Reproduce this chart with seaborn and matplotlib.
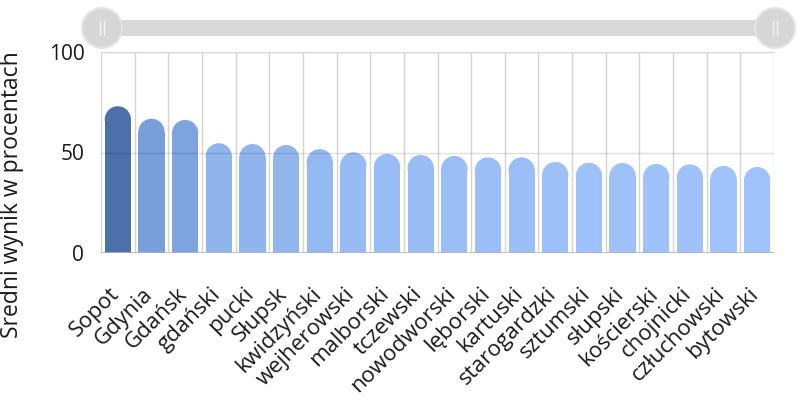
import numpy as np
import pandas as pd
import matplotlib
matplotlib.use("Agg")
import matplotlib.pyplot as plt
import matplotlib.transforms as mtransforms
import seaborn as sns
from matplotlib.colors import LinearSegmentedColormap, Normalize
from matplotlib.patches import Ellipse, Circle, Rectangle

# dane: średni wynik w procentach wg powiatu
powiaty = ["Sopot", "Gdynia", "Gdańsk", "gdański", "pucki", "Słupsk", "kwidzyński",
           "wejherowski", "malborski", "tczewski", "nowodworski", "lęborski", "kartuski",
           "starogardzki", "sztumski", "słupski", "kościerski", "chojnicki",
           "człuchowski", "bytowski"]
wyniki = [73.0, 66.8, 66.2, 54.6, 54.2, 53.7, 51.7, 50.1, 49.3, 48.8, 48.3, 47.6,
          47.6, 45.3, 44.9, 44.8, 44.3, 44.1, 43.3, 42.8]
y_ticks = [0, 50, 100]

sns.set_theme(style="white")
plt.rcParams['font.family'] = ['Open Sans', 'DejaVu Sans']

df = pd.DataFrame({"powiat": powiaty, "wynik": wyniki})

# kolor zależny od wyniku (ciemniej = wyżej)
vmin, vmax = 42, 73
cmap = LinearSegmentedColormap.from_list("niebieski", [
    (0.0, "#A0C4FB"),
    ((50 - vmin) / (vmax - vmin), "#97BBF3"),
    ((55 - vmin) / (vmax - vmin), "#8FB4EC"),
    ((66 - vmin) / (vmax - vmin), "#7EA5DF"),
    (1.0, "#4B70AB"),
])
norm = Normalize(vmin, vmax)
kolory = [cmap(norm(v)) for v in wyniki]

fig = plt.figure(figsize=(8.06, 4.04), dpi=100)
ax = fig.add_axes([101 / 806, 1 - 253 / 404, 673 / 806, 201 / 404])
sns.barplot(data=df, x="powiat", y="wynik", hue="powiat", palette=kolory,
            width=0.78, saturation=1, legend=False, ax=ax, zorder=2, linewidth=0)
ax.set_xlim(-0.5, len(powiaty) - 0.5)
ax.set_ylim(0, 100)

# zaokrąglone wierzchołki słupków
fig.canvas.draw()
ax_h_px = ax.get_window_extent().height
for p in list(ax.patches):
    x, w, h = p.get_x(), p.get_width(), p.get_height()
    w_px = ax.transData.transform((w, 0))[0] - ax.transData.transform((0, 0))[0]
    ry = (w_px / 2) / ax_h_px * 100
    p.set_height(h - ry)
    ax.add_patch(Ellipse((x + w / 2, h - ry), w, 2 * ry, facecolor=p.get_facecolor(),
                         lw=0, zorder=2))

# siatka
for b in np.arange(-0.5, len(powiaty)):
    ax.axvline(b, color="#d4d4d4", lw=1, zorder=1)
ax.axhline(100, color="#d4d4d4", lw=1, zorder=1)
ax.axhline(50, color="black", alpha=0.13, lw=1, zorder=3)
ax.axhline(0, color="#b4b4b4", lw=1.2, zorder=3)
for s in ax.spines.values():
    s.set_visible(False)

ax.set_yticks(y_ticks)
ax.tick_params(axis="y", length=0, pad=12, labelsize=15, labelcolor="#1a1a1a")
ax.set_xticks(range(len(powiaty)))
ax.set_xticklabels(powiaty, rotation=45, ha="right", rotation_mode="anchor",
                   fontsize=16, color="#1a1a1a")
ax.tick_params(axis="x", length=0, pad=22)
shift = mtransforms.ScaledTranslation(-9 / 100, 0, fig.dpi_scale_trans)
for lab in ax.get_xticklabels():
    lab.set_transform(lab.get_transform() + shift)
ax.set_xlabel("")
ax.set_ylabel("")
fig.text(12 / 806, 1 - 195 / 404, "Sredni wynik w procentach", rotation=90,
         ha="center", va="center", fontsize=16.5, color="#1a1a1a")

# suwak zakresu u góry
ov = fig.add_axes([0, 0, 1, 1])
ov.set_xlim(0, 806)
ov.set_ylim(404, 0)
ov.axis("off")
ov.patch.set_visible(False)
ov.add_patch(Rectangle((102, 20), 673, 16, color="#d9d9d9", lw=0))
for cx in (102, 775):
    ov.add_patch(Circle((cx, 28), 20, facecolor="#d6d6d6", edgecolor="#e4e4e4", lw=1.5))
    ov.plot([cx - 2, cx - 2], [21, 35], color="#f4f4f4", lw=1)
    ov.plot([cx + 2, cx + 2], [21, 35], color="#f4f4f4", lw=1)

fig.savefig("out.png", dpi=100)
